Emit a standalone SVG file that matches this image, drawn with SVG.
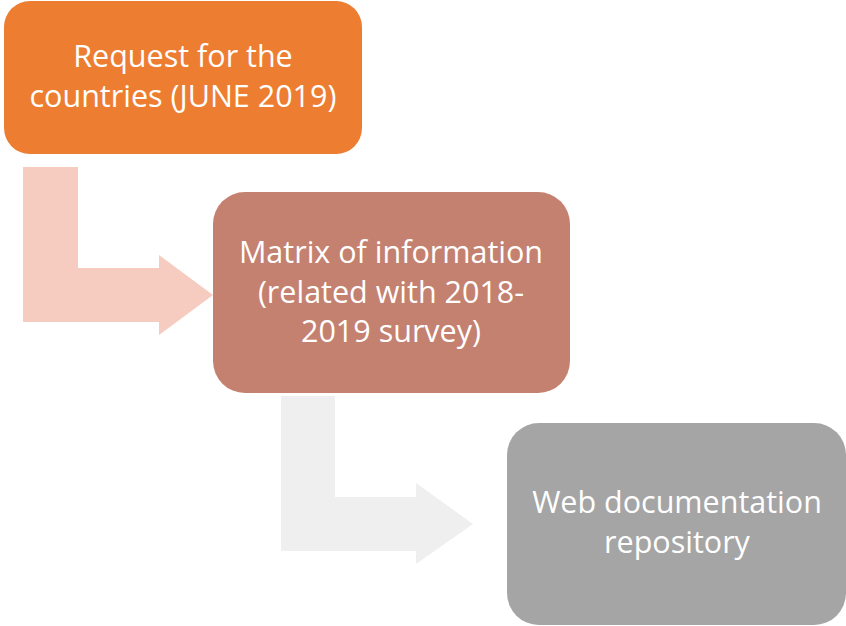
<svg xmlns="http://www.w3.org/2000/svg" width="846" height="626" viewBox="0 0 846 626">
<style>
.t{font-family:"Open Sans","Liberation Sans",sans-serif;font-size:30.5px;fill:#ffffff;text-anchor:middle}
</style>
<rect width="846" height="626" fill="#ffffff"/>
<g id="connectors">
<path d="M23,167 H78 V268 H159 V255 L213,295 L159,335 V322 H23 Z" fill="#F5CCBF"/>
<path d="M281,396 H335 V497 H416 V483 L473,524 L416,564 V551 H281 Z" fill="#EFEFEF"/>
</g>
<g id="node1">
<rect x="4" y="1" width="358" height="153" rx="26" fill="#ED7D31"/>
<text class="t" x="183" y="67">Request for the</text>
<text class="t" x="183" y="107">countries (JUNE 2019)</text>
</g>
<g id="node2">
<rect x="213" y="192" width="357" height="201" rx="32" fill="#C48170"/>
<text class="t" x="391" y="263">Matrix of information</text>
<text class="t" x="391" y="303">(related with 2018-</text>
<text class="t" x="391" y="342">2019 survey)</text>
</g>
<g id="node3">
<rect x="507" y="423" width="339" height="202" rx="32" fill="#A5A5A5"/>
<text class="t" x="677" y="513">Web documentation</text>
<text class="t" x="677" y="553">repository</text>
</g>
</svg>
